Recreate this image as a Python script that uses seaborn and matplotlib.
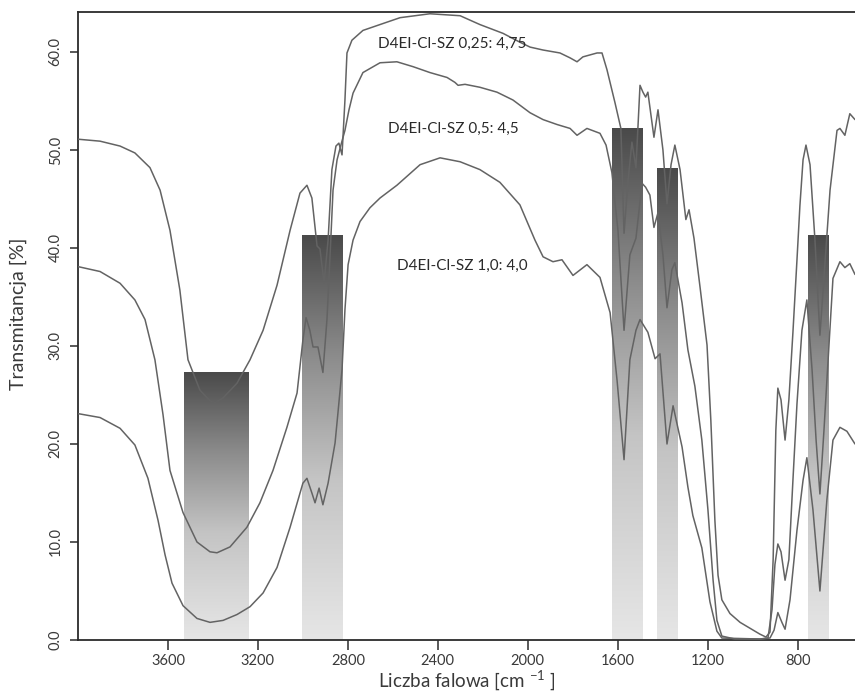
import numpy as np
import pandas as pd
import matplotlib
matplotlib.use("Agg")
import matplotlib.pyplot as plt
from matplotlib.colors import LinearSegmentedColormap
import seaborn as sns

# ---- data ----
wn1 = [4000, 3902, 3813, 3747, 3680, 3635, 3591, 3547, 3511, 3458, 3413, 3391, 3355, 3293, 3235, 3177, 3115, 3057,
       3013, 2982, 2960, 2937, 2924, 2906, 2888, 2871, 2853, 2840, 2826, 2813, 2804, 2782, 2733, 2657, 2568, 2435,
       2301, 2213, 2110, 2035, 1990, 1932, 1857, 1812, 1781, 1755, 1692, 1670, 1648, 1612, 1586, 1572, 1554, 1537,
       1519, 1501, 1488, 1476, 1466, 1439, 1421, 1399, 1381, 1363, 1346, 1323, 1297, 1283, 1261, 1234, 1203, 1186,
       1168, 1154, 1137, 1101, 1056, 1012, 968, 941, 923, 909, 897, 888, 874, 856, 839, 821, 803, 790, 776, 763,
       745, 723, 701, 679, 656, 625, 612, 590, 568, 545]
t1 = [51.1, 50.9, 50.4, 49.7, 48.2, 45.9, 41.8, 35.7, 28.6, 25.5, 24.4, 24.2, 24.7, 26.2, 28.6, 31.6, 36.2, 41.8,
      45.6, 46.4, 45.1, 40.2, 39.9, 36.4, 40.8, 48.0, 50.4, 50.7, 49.5, 55.1, 59.9, 61.2, 62.2, 62.8, 63.5, 63.9,
      63.7, 62.8, 61.9, 61.0, 60.5, 60.2, 59.9, 59.4, 59.0, 59.5, 59.9, 59.9, 58.2, 54.8, 52.2, 41.5, 46.9, 50.8,
      48.2, 56.6, 55.9, 55.4, 55.9, 51.3, 54.1, 50.0, 44.5, 48.5, 50.5, 48.0, 42.9, 43.9, 41.0, 36.0, 30.1, 22.4,
      12.2, 6.6, 4.1, 2.7, 1.8, 1.2, 0.6, 0.3, 0.8, 8.2, 21.4, 25.7, 24.5, 20.4, 24.5, 31.4, 38.8, 44.3, 49.0, 50.5,
      48.5, 40.8, 31.1, 38.3, 45.9, 52.0, 52.2, 51.5, 53.7, 53.1]

wn2 = [4000, 3902, 3813, 3747, 3702, 3658, 3622, 3591, 3533, 3471, 3413, 3382, 3324, 3249, 3191, 3133, 3071, 3026,
       3000, 2986, 2969, 2955, 2933, 2911, 2893, 2880, 2866, 2848, 2831, 2813, 2795, 2777, 2733, 2657, 2582, 2510,
       2435, 2359, 2324, 2310, 2279, 2213, 2137, 2066, 1990, 1932, 1870, 1812, 1781, 1737, 1679, 1652, 1626, 1599,
       1572, 1546, 1519, 1492, 1476, 1457, 1439, 1421, 1399, 1381, 1359, 1346, 1314, 1288, 1257, 1226, 1199, 1176,
       1159, 1137, 1079, 968, 932, 914, 901, 888, 874, 856, 839, 821, 803, 781, 759, 736, 718, 701, 683, 670, 643,
       612, 590, 568, 545]
t2 = [38.1, 37.6, 36.4, 34.7, 32.7, 28.6, 23.0, 17.3, 13.0, 10.0, 9.0, 8.9, 9.5, 11.5, 14.0, 17.3, 21.7, 25.2,
      30.6, 32.9, 31.6, 29.9, 29.9, 27.3, 32.7, 38.8, 45.9, 49.0, 50.5, 52.0, 54.1, 55.8, 57.9, 58.9, 59.0, 58.5,
      57.9, 57.4, 56.9, 56.6, 56.7, 56.4, 55.9, 55.1, 53.8, 53.1, 52.6, 52.2, 51.5, 52.2, 51.7, 50.5, 47.7, 41.8,
      31.6, 39.3, 41.0, 46.6, 46.2, 45.4, 42.1, 43.6, 39.3, 33.9, 37.8, 38.5, 34.4, 29.6, 25.9, 20.4, 13.3, 6.1,
      2.0, 0.4, 0.1, 0.1, 0.2, 3.1, 7.7, 9.8, 9.0, 6.1, 8.2, 16.3, 24.1, 31.6, 34.7, 27.6, 20.4, 14.9, 21.4, 26.5,
      36.9, 38.6, 38.0, 38.4, 37.3]

wn3 = [4000, 3902, 3813, 3747, 3689, 3644, 3613, 3582, 3533, 3471, 3413, 3355, 3293, 3235, 3177, 3115, 3057, 3000,
       2982, 2960, 2946, 2928, 2911, 2888, 2857, 2844, 2826, 2813, 2799, 2777, 2746, 2702, 2657, 2582, 2479, 2390,
       2301, 2213, 2124, 2035, 1968, 1932, 1888, 1848, 1799, 1737, 1679, 1634, 1603, 1572, 1546, 1519, 1501, 1466,
       1434, 1412, 1381, 1354, 1314, 1288, 1266, 1226, 1190, 1159, 1137, 968, 923, 905, 888, 870, 856, 834, 803, 776,
       759, 732, 701, 670, 643, 612, 581, 545]
t3 = [23.1, 22.7, 21.6, 19.9, 16.5, 12.2, 8.7, 5.8, 3.5, 2.2, 1.8, 2.0, 2.6, 3.4, 4.8, 7.4, 11.5, 16.0,
      16.5, 15.0, 14.0, 15.5, 13.8, 16.0, 20.1, 23.2, 27.6, 33.7, 38.3, 40.8, 42.7, 44.1, 45.1, 46.4, 48.5, 49.2,
      48.8, 48.0, 46.7, 44.4, 40.8, 39.1, 38.6, 38.8, 37.2, 38.3, 37.0, 33.4, 26.5, 18.4, 28.6, 31.6, 32.7, 31.4,
      28.7, 29.2, 20.0, 23.9, 19.7, 15.6, 12.7, 9.4, 3.9, 0.9, 0.2, 0.1, 0.2, 1.0, 2.8, 1.8, 1.1, 4.1, 11.2, 16.3,
      18.6, 13.3, 5.0, 14.3, 20.4, 21.7, 21.3, 20.0]

series_labels = ["D4EI-Cl-SZ 0,25: 4,75", "D4EI-Cl-SZ 0,5: 4,5", "D4EI-Cl-SZ 1,0: 4,0"]
label_wn = [2666, 2622, 2582]
label_t = [60.8, 52.2, 38.2]

band_hi = [3529, 3004, 1626, 1426, 754]
band_lo = [3244, 2822, 1492, 1337, 665]
band_top = [27.3, 41.3, 52.2, 48.1, 41.3]

xticks = [3600, 3200, 2800, 2400, 2000, 1600, 1200, 800]
yticks = [0, 10, 20, 30, 40, 50, 60]

# ---- styling ----
sns.set_theme(style="white")
plt.rcParams["font.family"] = ["Lato", "DejaVu Sans"]

fig = plt.figure(figsize=(8.55, 6.92), dpi=100)
ax = fig.add_axes([78 / 855, 52 / 692, 777 / 855, 628 / 692])

cmap = LinearSegmentedColormap.from_list(
    "band", [(0.0, "#4a4a4a"), (0.3, "#8c8c8c"), (0.6, "#c4c4c4"), (1.0, "#e6e6e6")])
grad = np.linspace(0, 1, 256).reshape(-1, 1)
for lo, hi, top in zip(band_lo, band_hi, band_top):
    ax.imshow(grad, extent=[hi, lo, 0, top], aspect="auto", cmap=cmap,
              origin="upper", zorder=1, interpolation="bicubic")

line_color = "#636363"
for wn, t in [(wn1, t1), (wn2, t2), (wn3, t3)]:
    df = pd.DataFrame({"wn": wn, "t": t})
    sns.lineplot(data=df, x="wn", y="t", ax=ax, color=line_color, linewidth=1.1,
                 estimator=None, sort=False, zorder=3)

for lab, lx, ly in zip(series_labels, label_wn, label_t):
    ax.text(lx, ly, lab, fontsize=11, color="#2a2a2a", ha="left", va="center", zorder=4)

ax.set_xlim(4000, 545)
ax.set_ylim(0, 64.08)
ax.set_xticks(xticks)
ax.set_xticklabels([str(v) for v in xticks])
ax.set_yticks(yticks)
ax.set_yticklabels([f"{v:.1f}" for v in yticks], rotation=90, va="center")

for side in ["left", "bottom", "top"]:
    ax.spines[side].set_visible(True)
    ax.spines[side].set_color("#2b2b2b")
    ax.spines[side].set_linewidth(1.3)
ax.spines["right"].set_visible(False)

ax.tick_params(axis="x", direction="out", length=7, width=1.1, color="#2b2b2b",
               labelsize=10.5, labelcolor="#3a3a3a", pad=3, bottom=True)
ax.tick_params(axis="y", direction="out", length=6, width=1.1, color="#2b2b2b",
               labelsize=10.5, labelcolor="#3a3a3a", pad=5, left=True)

ax.set_xlabel("Liczba falowa [cm $^{\\mathregular{-1}}$ ]", fontsize=13.5, color="#3a3a3a")
ax.set_ylabel("Transmitancja [%]", fontsize=14, color="#3a3a3a")
ax.xaxis.set_label_coords(0.5, -0.046)
ax.yaxis.set_label_coords(-0.066, 0.52)
ax.grid(False)

fig.savefig("out.png", dpi=100)
